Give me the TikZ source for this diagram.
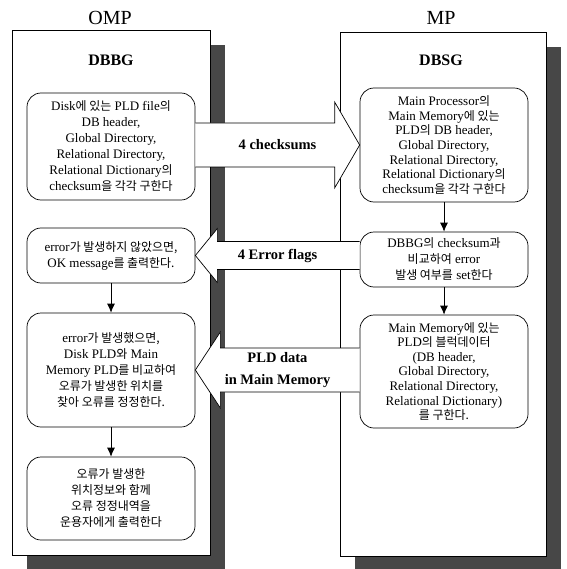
\documentclass[tikz,border=0pt]{standalone}
\usepackage{fontspec}
\setmainfont{Liberation Serif}
\newfontfamily\krfont[Scale=0.92]{Noto Sans CJK KR}
\newcommand{\ko}[1]{{\krfont #1}}
\usetikzlibrary{arrows.meta,calc,shadows}

\tikzset{
    sysframe/.style={draw, line width=0.8pt, fill=white,
        general shadow={fill=black!72, shadow xshift=15pt, shadow yshift=-15pt}},
    procbox/.style={draw, line width=0.7pt, fill=white, rounded corners=14pt,
        align=center, minimum width=168pt, inner sep=2pt,
        font=\fontsize{13}{16}\selectfont},
    tightbox/.style={procbox, font=\fontsize{13}{14.6}\selectfont},
    flow/.style={-{Latex[length=9pt,width=8pt]}, line width=0.8pt},
    bigarrow/.style={draw, fill=white, line width=0.7pt},
    arrowlabel/.style={font=\fontsize{14.5}{22}\selectfont\bfseries, align=center}
}

\begin{document}
\begin{tikzpicture}[x=1pt, y=-1pt]
        \useasboundingbox (0,0) rectangle (566,569);
        % the two processors
        \node [sysframe, minimum width=198pt, minimum height=525pt] (ompf) at (111,292.5) {};
        \node [sysframe, minimum width=206pt, minimum height=524pt] (mpf) at (443,294) {};
        \node [font=\fontsize{20}{24}\selectfont] (omp) at (110,18) {OMP};
        \node [font=\fontsize{20}{24}\selectfont] (mp) at (441,18) {MP};
        \node [font=\fontsize{16}{20}\selectfont\bfseries] (dbbg) at (111,60) {DBBG};
        \node [font=\fontsize{16}{20}\selectfont\bfseries] (dbsg) at (441,60) {DBSG};
        % OMP side
        \node [procbox, minimum height=107pt] (lb1) at (111,146.5)
            {Disk\ko{에 있는} PLD file\ko{의}\\DB header,\\Global Directory,\\Relational Directory,\\Relational Dictionary\ko{의}\\checksum\ko{을 각각 구한다}};
        \node [procbox, minimum height=55pt] (lb2) at (111,255.5)
            {error\ko{가 발생하지 않았으면,}\\OK message\ko{를 출력한다.}};
        \node [procbox, minimum height=114pt] (lb3) at (111,370)
            {error\ko{가 발생했으면,}\\Disk PLD\ko{와} Main\\Memory PLD\ko{를 비교하여}\\\ko{오류가 발생한 위치를}\\\ko{찾아 오류를 정정한다.}};
        \node [procbox, minimum height=83pt] (lb4) at (111,498.5)
            {\ko{오류가 발생한}\\\ko{위치정보와 함께}\\\ko{오류 정정내역을}\\\ko{운용자에게 출력한다}};
        % MP side
        \node [tightbox, minimum height=114pt] (rb1) at (444,145)
            {Main Processor\ko{의}\\Main Memory\ko{에 있는}\\PLD\ko{의} DB header,\\Global Directory,\\Relational Directory,\\Relational Dictionary\ko{의}\\checksum\ko{을 각각 구한다}};
        \node [procbox, minimum height=55pt] (rb2) at (444,259.5)
            {DBBG\ko{의} checksum\ko{과}\\\ko{비교하여} error\\\ko{발생 여부를} set\ko{한다}};
        \node [tightbox, minimum height=113pt] (rb3) at (444,371.5)
            {Main Memory\ko{에 있는}\\PLD\ko{의 블럭데이터}\\(DB header,\\Global Directory,\\Relational Directory,\\Relational Dictionary)\\\ko{를 구한다.}};
        \draw [flow] (lb2) -- (lb3);
        \draw [flow] (lb3) -- (lb4);
        \draw [flow] (rb1) -- (rb2);
        \draw [flow] (rb2) -- (rb3);
        % block arrows between OMP and MP
        \filldraw [bigarrow] ($(lb1.east |- rb1.west)+(0,-22)$) -- ($(rb1.west)+(-25,-22)$)
            -- ($(rb1.west)+(-25,-43)$) -- (rb1.west) -- ($(rb1.west)+(-25,43)$)
            -- ($(rb1.west)+(-25,22)$) -- ($(lb1.east |- rb1.west)+(0,22)$);
        \filldraw [bigarrow] ($(rb2.west |- lb2.east)+(0,-14)$) -- ($(lb2.east)+(22,-14)$)
            -- ($(lb2.east)+(22,-27)$) -- (lb2.east) -- ($(lb2.east)+(22,27)$)
            -- ($(lb2.east)+(22,14)$) -- ($(rb2.west |- lb2.east)+(0,14)$);
        \filldraw [bigarrow] ($(rb3.west |- lb3.east)+(0,-22)$) -- ($(lb3.east)+(25,-22)$)
            -- ($(lb3.east)+(25,-38)$) -- (lb3.east) -- ($(lb3.east)+(25,38)$)
            -- ($(lb3.east)+(25,22)$) -- ($(rb3.west |- lb3.east)+(0,22)$);
        \node [arrowlabel] (chklbl) at ($(lb1.east |- rb1.west)!0.5!(rb1.west)$) {4 checksums};
        \node [arrowlabel] (flaglbl) at ($(lb2.east)!0.5!(rb2.west |- lb2.east)$) {4 Error flags};
        \node [arrowlabel] (pldlbl) at ($(lb3.east)!0.5!(rb3.west |- lb3.east)$) {PLD data\\in Main Memory};
    \end{tikzpicture}
\end{document}
